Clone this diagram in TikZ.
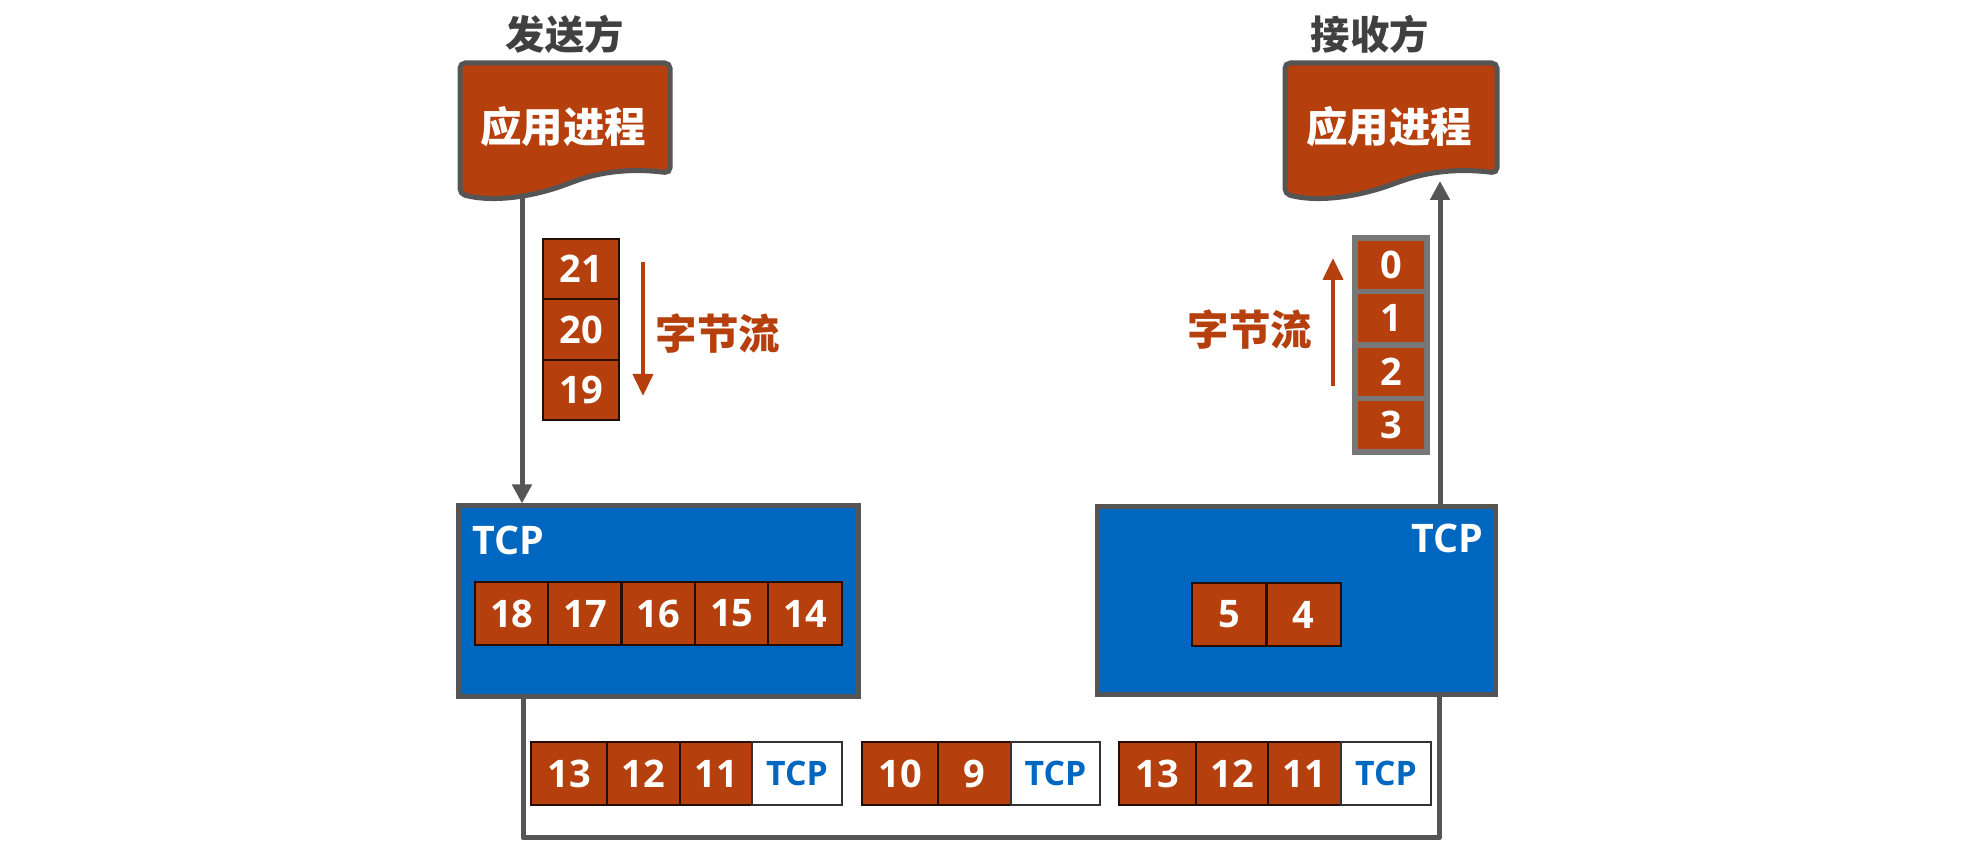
\documentclass[tikz,border=0pt]{standalone}
\usepackage{fontspec}
\setmainfont{Open Sans}
\newfontfamily\cjk{Noto Sans CJK SC}
\usepackage{tikz}
\usetikzlibrary{arrows.meta}

\definecolor{ladrillo}{RGB}{181,64,14}
\definecolor{azultcp}{RGB}{0,103,192}
\definecolor{grisborde}{RGB}{85,85,85}
\definecolor{gristexto}{RGB}{64,64,64}

\begin{document}
\begin{tikzpicture}[
    x=0.1mm, y=-0.1mm,
    font=\bfseries,
    celda/.style={
        draw=black!80!ladrillo,
        line width=0.6pt,
        fill=ladrillo,
        text=white,
        inner sep=0pt,
        minimum width=7.4mm,
        minimum height=6.3mm,
        font=\fontsize{10.8}{12}\selectfont\bfseries
    },
    celdagris/.style={
        celda,
        draw=grisborde!80,
        line width=1.6pt,
        minimum width=7.2mm,
        minimum height=5.35mm
    },
    cabecera/.style={
        draw=black!80,
        line width=0.6pt,
        fill=white,
        text=azultcp,
        inner sep=0pt,
        minimum width=9mm,
        minimum height=6.3mm,
        font=\fontsize{9.6}{11}\selectfont\bfseries
    },
    caja/.style={
        draw=grisborde,
        line width=0.5mm,
        fill=azultcp,
        inner sep=0pt
    },
    documento/.style={
        draw=grisborde,
        line width=0.5mm,
        fill=ladrillo,
        rounded corners=1.5pt
    },
    conector/.style={
        draw=grisborde,
        line width=0.5mm,
        -{Triangle[width=1.9mm,length=1.9mm]}
    },
    flujo/.style={
        draw=ladrillo,
        line width=0.4mm,
        -{Triangle[width=2mm,length=2.2mm]}
    }
]
    \useasboundingbox (0,0) rectangle (1966,852);

    % emisor
    \node[text=gristexto, font=\cjk\bfseries\fontsize{11.2}{13}\selectfont] (emisor) at (565,34) {发送方};
    \path[documento] (460,63) -- (670,63) -- (670,173)
        .. controls (630,168) and (600,172) .. (570,183)
        .. controls (535,196) and (495,203) .. (460,194) -- cycle;
    \node[text=white, font=\cjk\bfseries\fontsize{11.8}{14}\selectfont] (appemisor) at (563,127) {应用进程};
    \coordinate (salida) at (522,197);

    \node[celda, minimum width=7.6mm, minimum height=6.03mm] (b21) at (581,269) {21};
    \node[celda, minimum width=7.6mm, minimum height=6.03mm] (b20) at (581,329.5) {20};
    \node[celda, minimum width=7.6mm, minimum height=6.03mm] (b19) at (581,390) {19};
    \coordinate (fe1) at (643,262);
    \coordinate (fe2) at (643,396);
    \draw[flujo] (fe1) -- (fe2);
    \node[text=ladrillo, font=\cjk\bfseries\fontsize{11.8}{14}\selectfont] (flujoemisor) at (718,334) {字节流};

    \node[caja, minimum width=40mm, minimum height=19.1mm] (tcpemisor) at (658,601.5) {};
    \node[text=white, font=\fontsize{11.2}{13}\selectfont\bfseries] (etqemisor) at (508,540) {TCP};
    \node[celda] (b18) at (511.7,613.5) {18};
    \node[celda] (b17) at (585.1,613.5) {17};
    \node[celda] (b16) at (658.5,613.5) {16};
    \node[celda] (b15) at (731.9,613.5) {15};
    \node[celda] (b14) at (805.3,613.5) {14};

    \draw[conector] (salida) -- (salida |- tcpemisor.north);

    % receptor
    \node[text=gristexto, font=\cjk\bfseries\fontsize{11.2}{13}\selectfont] (receptor) at (1370,34) {接收方};
    \path[documento] (1285,63) -- (1497,63) -- (1497,173)
        .. controls (1457,168) and (1427,172) .. (1396,183)
        .. controls (1360,196) and (1320,203) .. (1285,194) -- cycle;
    \node[text=white, font=\cjk\bfseries\fontsize{11.8}{14}\selectfont] (appreceptor) at (1389,127) {应用进程};
    \coordinate (entrada) at (1440,181);

    \node[celdagris] (b0) at (1391,264.75) {0};
    \node[celdagris] (b1) at (1391,318.25) {1};
    \node[celdagris] (b2) at (1391,371.75) {2};
    \node[celdagris] (b3) at (1391,425.25) {3};
    \coordinate (fr1) at (1333,386);
    \coordinate (fr2) at (1333,258);
    \draw[flujo] (fr1) -- (fr2);
    \node[text=ladrillo, font=\cjk\bfseries\fontsize{11.8}{14}\selectfont] (flujoreceptor) at (1250,330) {字节流};

    \node[caja, minimum width=39.8mm, minimum height=18.8mm] (tcpreceptor) at (1296,601) {};
    \node[text=white, font=\fontsize{11.2}{13}\selectfont\bfseries] (etqreceptor) at (1447,538) {TCP};
    \node[celda, minimum width=7.45mm] (b5) at (1229.2,614.5) {5};
    \node[celda, minimum width=7.45mm] (b4) at (1303.7,614.5) {4};

    \draw[conector] (tcpreceptor.north -| entrada) -- (entrada);

    % red
    \coordinate (abajo1) at (523,838);
    \coordinate (abajo2) at (1439,838);
    \draw[draw=grisborde, line width=0.5mm, line join=round]
        (tcpemisor.south -| abajo1) -- (abajo1) -- (abajo2) -- (tcpreceptor.south -| abajo2);

    \node[celda, minimum width=7.6mm] (p13) at (569,773.5) {13};
    \node[celda, minimum width=7.3mm] (p12) at (643.5,773.5) {12};
    \node[celda, minimum width=7.2mm] (p11) at (716,773.5) {11};
    \node[cabecera] (ptcp1) at (797,773.5) {TCP};

    \node[celda, minimum width=7.6mm] (p10) at (900,773.5) {10};
    \node[celda, minimum width=7.3mm] (p9) at (974.5,773.5) {9};
    \node[cabecera, minimum width=8.9mm] (ptcp2) at (1055.5,773.5) {TCP};

    \node[celda, minimum width=7.7mm] (q13) at (1157.5,773.5) {13};
    \node[celda, minimum width=7.2mm] (q12) at (1232,773.5) {12};
    \node[celda, minimum width=7.3mm] (q11) at (1304.5,773.5) {11};
    \node[cabecera] (ptcp3) at (1386,773.5) {TCP};
\end{tikzpicture}
\end{document}
